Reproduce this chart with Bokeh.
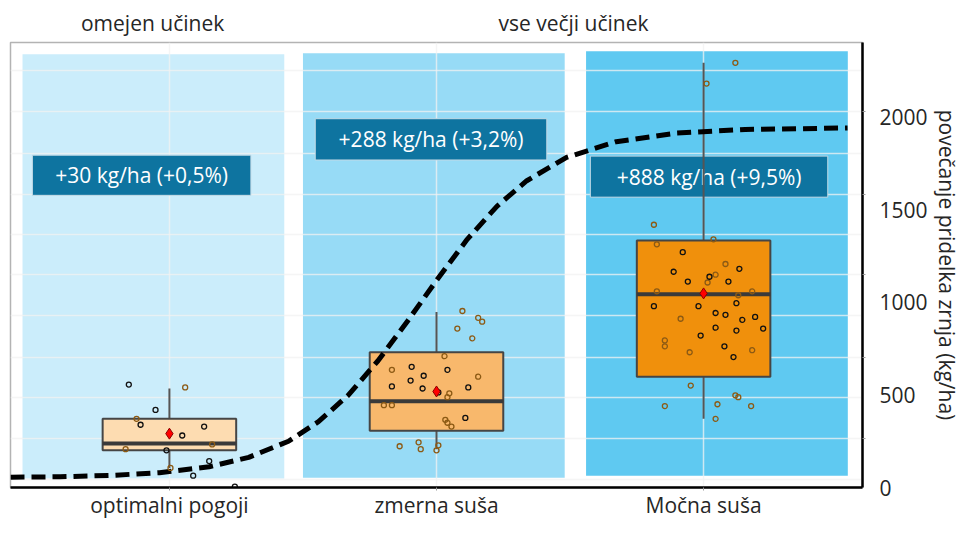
from bokeh.plotting import figure
from bokeh.models import Range1d, FixedTicker, LinearAxis, ColumnDataSource
from bokeh.core.properties import value
from bokeh.embed import file_html
from bokeh.resources import INLINE

# ---------------- data ----------------
categories = ["optimalni pogoji", "zmerna suša", "Močna suša"]
gain_labels = ["+30 kg/ha (+0,5%)", "+288 kg/ha (+3,2%)", "+888 kg/ha (+9,5%)"]
effect_labels = ["omejen učinek", "vse večji učinek"]
y_label = "povečanje pridelka zrnja (kg/ha)"
y_ticks = [0, 500, 1000, 1500, 2000]

q1 = [201, 307, 599]
median = [238, 466, 1044]
q3 = [371, 731, 1335]
whisker_low = [106, 207, 371]
whisker_high = [535, 949, 2295]
mean = [291, 519, 1049]

# observations (jitter offset, value, group: 0 = black, 1 = tan)
opt_jitter = [-0.152, 0.059, -0.052, -0.123, -0.108, 0.130, 0.048, -0.164, -0.011, 0.160, 0.149, 0.004, 0.089, 0.245]
opt_values = [556, 541, 419, 371, 339, 329, 281, 207, 201, 233, 143, 106, 64, 5]
opt_group = [0, 1, 0, 1, 0, 0, 0, 1, 0, 1, 0, 1, 0, 0]

mod_jitter = [0.097, 0.156, 0.171, 0.078, 0.134, 0.030, -0.167, 0.156, 0.048, 0.041, -0.197, -0.167,
              0.033, 0.041, 0.056, -0.138, -0.067, -0.059, 0.007, 0.000,
              -0.093, 0.041, -0.048, -0.097, -0.167, -0.052, 0.119, 0.007, 0.108]
mod_values = [954, 917, 896, 859, 806, 710, 636, 599, 509, 488, 445, 445,
              366, 350, 329, 223, 244, 207, 228, 201,
              652, 636, 604, 578, 546, 535, 541, 514, 376]
mod_group = [1] * 20 + [0] * 9

sev_jitter = [0.119, 0.011, -0.186, -0.175, 0.037, 0.082, 0.045, 0.015, -0.175, 0.130, 0.182,
              -0.086, -0.145, -0.145, -0.052, 0.182, -0.048, -0.145, 0.052, 0.119, 0.130, 0.178, 0.045,
              -0.078, -0.112, 0.134, 0.022, -0.059, 0.093, 0.123, -0.186, -0.019, 0.045, 0.082,
              0.145, 0.193, 0.045, 0.123, 0.223, -0.011, 0.078, 0.112]
sev_values = [2295, 2183, 1420, 1314, 1341, 1208, 1150, 1108, 1060, 1039, 1060,
              912, 795, 763, 731, 742, 551, 440, 450, 498, 488, 440, 371,
              1272, 1166, 1182, 1139, 1113, 1113, 996, 980, 980, 943, 933,
              906, 922, 864, 848, 859, 821, 763, 705]
sev_group = [1] * 23 + [0] * 19

# dashed response curve
curve_x = [0.405, 0.591, 0.777, 0.963, 1.149, 1.297, 1.446, 1.558, 1.669, 1.781,
           1.892, 2.004, 2.115, 2.227, 2.338, 2.487, 2.673, 2.896, 3.156, 3.539]
curve_y = [56, 58, 65, 80, 112, 163, 250, 356, 498, 685,
           900, 1127, 1341, 1521, 1658, 1784, 1869, 1915, 1935, 1943]

# ---------------- styles / layout ----------------
FONT = "Open Sans"
TXT = "#262626"
panel_colors = ["#cbedfb", "#97dbf6", "#5fc9f1"]
panel_left = [0.45, 1.50, 2.56]
panel_right = [1.43, 2.48, 3.54]
panel_bottom = [48, 53, 64]
panel_top = [2342, 2347, 2358]
box_colors = ["#fddcb1", "#f8b86c", "#f0900c"]
box_width = 0.5
label_left = [0.487, 1.546, 2.576]
label_right = [1.305, 2.413, 3.465]
label_bottom = [1579, 1770, 1569]
label_top = [1796, 1993, 1791]
grid_lines = [42, 265, 486, 705, 928, 1150, 1367, 1585, 1807, 2030, 2252]
axis_minor = [265, 705, 1150, 1585, 2030]
effect_x = [0.937, 2.513]

xs = [1, 2, 3]

p = figure(width=963, height=521, x_range=Range1d(0.405, 3.595), y_range=Range1d(0, 2405),
           y_axis_location="right", output_backend="svg", toolbar_location=None,
           min_border_left=10, min_border_top=42, min_border_right=94, min_border_bottom=25)
p.background_fill_color = "white"
p.border_fill_color = "white"
p.outline_line_color = "#b3b3b3"
p.outline_line_width = 1.5

# background panels (below grid)
p.quad(left=panel_left, right=panel_right, bottom=panel_bottom, top=panel_top,
       fill_color=panel_colors, line_color=None, level="image")

# grid
p.ygrid.ticker = FixedTicker(ticks=grid_lines)
p.xgrid.ticker = FixedTicker(ticks=xs)
for g in (p.xgrid, p.ygrid):
    g.grid_line_color = "#f2f2f2"
    g.grid_line_alpha = 0.75
    g.grid_line_width = 1.5

# effect label boxes
p.quad(left=label_left, right=label_right, bottom=label_bottom, top=label_top,
       fill_color="#0e74a0", line_color="#c4dbe6", line_width=1)
p.text(x=[(a + b) / 2 for a, b in zip(label_left, label_right)],
       y=[(a + b) / 2 for a, b in zip(label_bottom, label_top)],
       text=gain_labels, text_font=value(FONT), text_font_size="21px",
       text_color="white", text_align="center", text_baseline="middle")

# boxplots
p.segment(x0=xs, x1=xs, y0=q3, y1=whisker_high, line_color="#555555", line_width=2)
p.segment(x0=xs, x1=xs, y0=q1, y1=whisker_low, line_color="#555555", line_width=2)
p.vbar(x=xs, width=box_width, bottom=q1, top=q3, fill_color=box_colors,
       line_color="#454545", line_width=2)
p.segment(x0=[x - box_width / 2 for x in xs], x1=[x + box_width / 2 for x in xs],
          y0=median, y1=median, line_color="#3a3a3a", line_width=4)

# dashed curve
p.line(curve_x, curve_y, line_color="black", line_width=5, line_dash="14 7")

# observations
px, py, pc = [], [], []
for i, (jit, vals, grp) in enumerate([(opt_jitter, opt_values, opt_group),
                                       (mod_jitter, mod_values, mod_group),
                                       (sev_jitter, sev_values, sev_group)]):
    for j, v, g in zip(jit, vals, grp):
        px.append(xs[i] + j)
        py.append(v)
        pc.append("#111111" if g == 0 else "#8c5a14")
src = ColumnDataSource(dict(x=px, y=py, c=pc))
p.scatter("x", "y", source=src, size=5, fill_color=None, line_color="c", line_width=1.3)

# means
p.scatter(xs, mean, marker="diamond", size=11, fill_color="#ff0000",
          line_color="#8b0000", line_width=1)

# bottom axis (categories)
bx = p.below[0]
bx.ticker = FixedTicker(ticks=xs)
bx.major_label_overrides = {x: c for x, c in zip(xs, categories)}
bx.axis_line_color = "black"
bx.axis_line_width = 2.5
bx.major_tick_line_color = "#9a9a9a"
bx.major_tick_in = 0
bx.major_tick_out = 3
bx.minor_tick_line_color = None
bx.major_label_standoff = 0
bx.major_label_text_font = FONT
bx.major_label_text_font_size = "21px"
bx.major_label_text_color = TXT

# top effect annotations as a label-only axis above the plot
top_axis = LinearAxis(ticker=FixedTicker(ticks=effect_x),
                      major_label_overrides={x: t for x, t in zip(effect_x, effect_labels)},
                      axis_line_color=None, major_tick_line_color=None, minor_tick_line_color=None,
                      major_tick_in=0, major_tick_out=0, major_label_standoff=6,
                      major_label_text_font=FONT, major_label_text_font_size="21px",
                      major_label_text_color=TXT)
p.add_layout(top_axis, "above")

ya = p.yaxis[0]
ya.ticker = FixedTicker(ticks=y_ticks, minor_ticks=axis_minor)
ya.axis_line_color = "black"
ya.axis_line_width = 2.5
ya.major_tick_line_color = None
ya.minor_tick_line_color = "#9a9a9a"
ya.minor_tick_in = 0
ya.minor_tick_out = 3
ya.major_tick_in = 0
ya.major_tick_out = 0
ya.major_label_standoff = 14
ya.major_label_text_font = FONT
ya.major_label_text_font_size = "21px"
ya.major_label_text_color = TXT
ya.axis_label = y_label
ya.axis_label_standoff = 2
ya.axis_label_text_font = FONT
ya.axis_label_text_font_size = "21px"
ya.axis_label_text_font_style = "normal"
ya.axis_label_text_color = TXT

open("out.html", "w").write(file_html(p, INLINE))
